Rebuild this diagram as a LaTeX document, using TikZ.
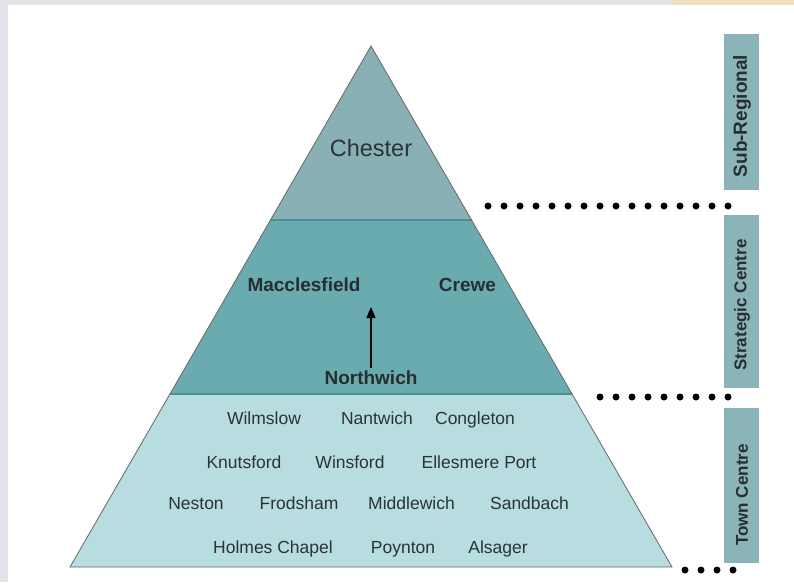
\documentclass[tikz,border=0pt]{standalone}
\usepackage{fontspec}
\setmainfont{Liberation Sans}
\usetikzlibrary{arrows.meta}
\definecolor{topband}{HTML}{88B0B5}
\definecolor{midband}{HTML}{6AABB0}
\definecolor{lowband}{HTML}{B7DDE1}
\definecolor{barcol}{HTML}{8BB4B9}
\definecolor{edgecol}{HTML}{4F8E93}
\definecolor{framecol}{HTML}{E3E2E9}
\definecolor{beige}{HTML}{EEDFC0}
\definecolor{txt}{HTML}{2B3338}
\tikzset{
  town/.style={font=\fontsize{17.5}{20}\selectfont, text=txt, inner sep=0pt, anchor=base},
  strat/.style={font=\fontsize{19}{22}\selectfont\bfseries, text=txt!90!black, inner sep=0pt},
  sidebar/.style={fill=barcol, draw=none},
  sidelabel/.style={font=\fontsize{17}{20}\selectfont\bfseries, text=txt!90!black, rotate=90, inner sep=0pt},
  dotline/.style={line width=7pt, line cap=round, dash pattern=on 0pt off 16pt, black}
}
\begin{document}
\begin{tikzpicture}[x=1pt,y=-1pt]
\useasboundingbox (0,0) rectangle (794,582);
\fill[white] (0,0) rectangle (794,582);
% frame
\fill[framecol] (0,0) rectangle (794,5);
\fill[framecol] (0,0) rectangle (8,582);
\fill[beige] (673,0) rectangle (794,5);
% pyramid points
\coordinate (apex) at (371,46);
\coordinate (l1) at (270.5,220);
\coordinate (r1) at (471.5,220);
\coordinate (l2) at (170,394);
\coordinate (r2) at (572,394);
\coordinate (bl) at (70,567);
\coordinate (br) at (672,567);
\fill[topband] (apex) -- (r1) -- (l1) -- cycle;
\fill[midband] (l1) -- (r1) -- (r2) -- (l2) -- cycle;
\fill[lowband] (l2) -- (r2) -- (br) -- (bl) -- cycle;
\draw[edgecol, line width=1.2pt] (l1) -- (r1);
\draw[edgecol, line width=1.2pt] (l2) -- (r2);
\draw[black!60, line width=0.8pt] (apex) -- (br) -- (bl) -- cycle;
% labels
\node[font=\fontsize{23.5}{26}\selectfont, text=txt, inner sep=0pt] (chester) at (371,148) {Chester};
\node[strat] (macc) at (304,285) {Macclesfield};
\node[strat] (crewe) at (467.5,285) {Crewe};
\node[strat] (north) at (371,378) {Northwich};
\coordinate (tip) at (371,307);
\draw[-{Triangle[length=11pt,width=9pt]}, line width=1.5pt, black] ([yshift=3pt]north.north) -- (tip);
% town centres
\node[town] (wilm) at (264,424) {Wilmslow};
\node[town] (nant) at (377,424) {Nantwich};
\node[town] (cong) at (475,424) {Congleton};
\node[town] (knut) at (244,468) {Knutsford};
\node[town] (wins) at (350,468) {Winsford};
\node[town] (elle) at (479,468) {Ellesmere Port};
\node[town] (nest) at (196,509) {Neston};
\node[town] (frod) at (299,509) {Frodsham};
\node[town] (midd) at (411.5,509) {Middlewich};
\node[town] (sand) at (529.5,509) {Sandbach};
\node[town] (holm) at (273,553) {Holmes Chapel};
\node[town] (poyn) at (403,553) {Poynton};
\node[town] (alsa) at (498,553) {Alsager};
% side bars
\fill[sidebar] (724,34) rectangle (759,190);
\fill[sidebar] (724,215) rectangle (759,388);
\fill[sidebar] (724,408) rectangle (759,563);
\node[sidelabel, font=\fontsize{19}{22}\selectfont\bfseries] (sub) at (742,116) {Sub-Regional};
\node[sidelabel] (strc) at (742,305) {Strategic Centre};
\node[sidelabel] (townc) at (742,495) {Town Centre};
% dotted separators
\coordinate (d1a) at (488,206);
\coordinate (d1b) at (733,206);
\coordinate (d2a) at (600,397);
\coordinate (d2b) at (733,397);
\coordinate (d3a) at (685,570);
\coordinate (d3b) at (733,570);
\draw[dotline] (d1a) -- (d1b);
\draw[dotline] (d2a) -- (d2b);
\draw[dotline] (d3a) -- (d3b);
\end{tikzpicture}
\end{document}
